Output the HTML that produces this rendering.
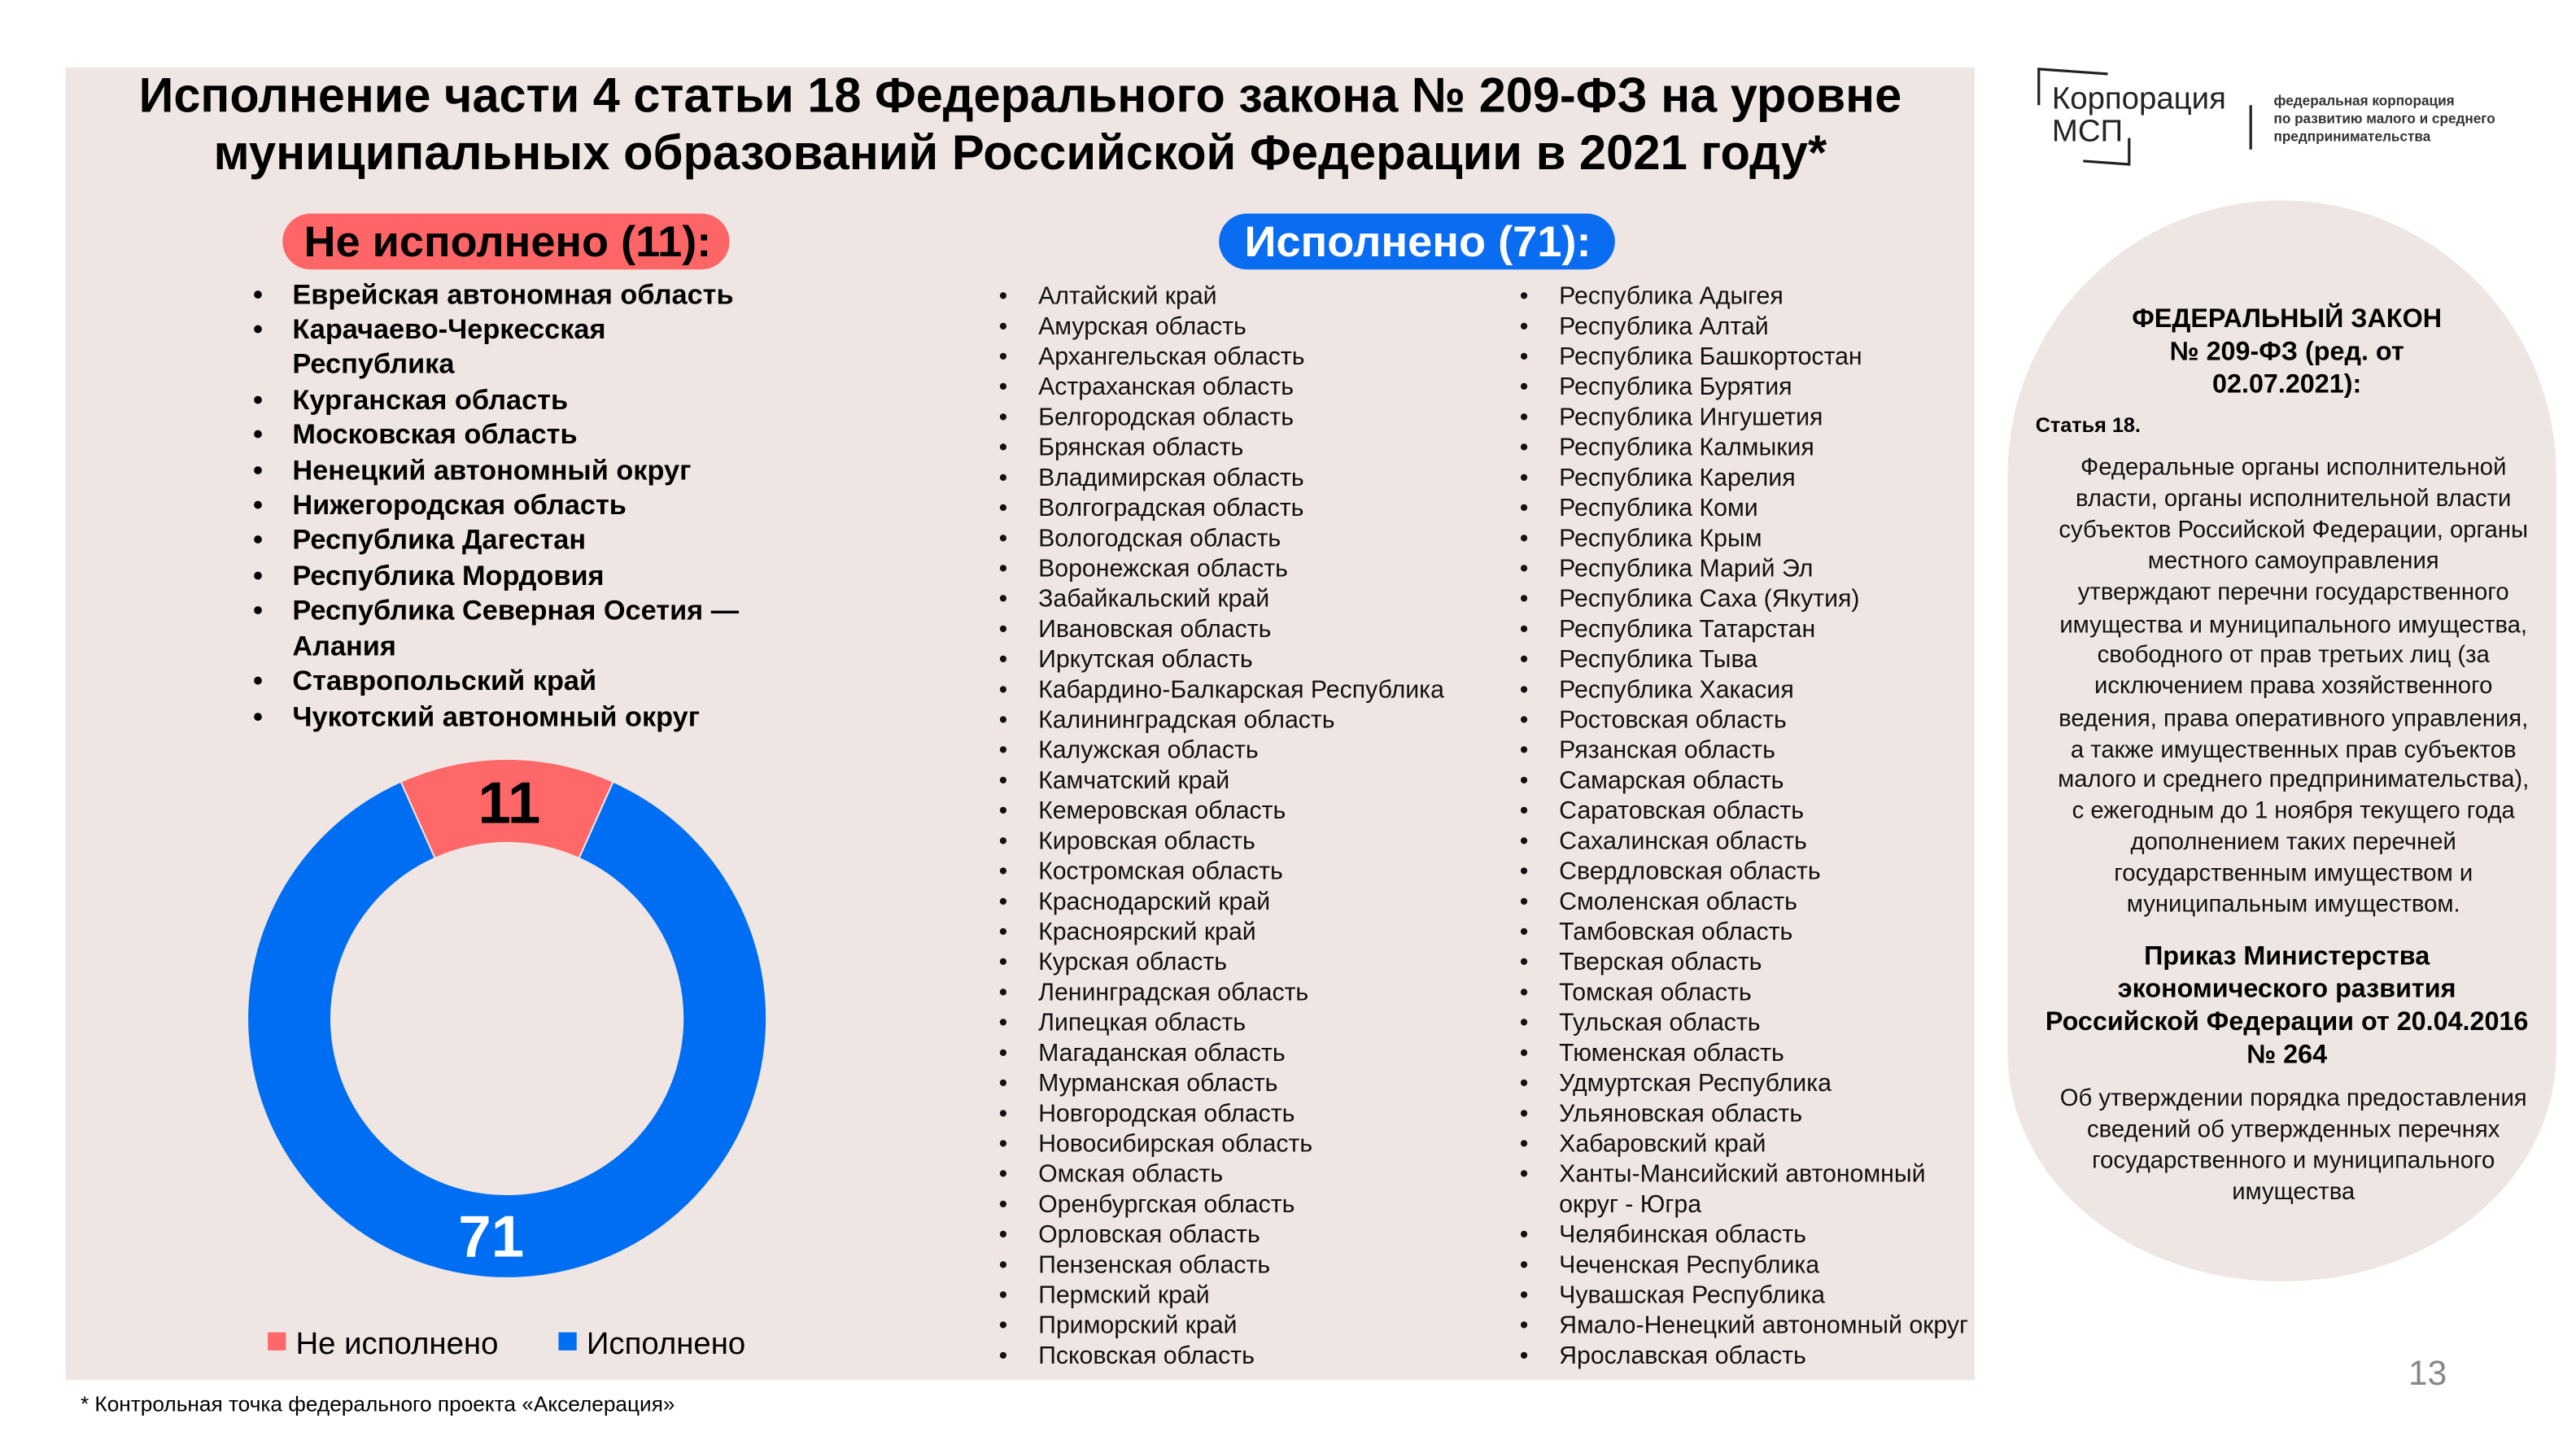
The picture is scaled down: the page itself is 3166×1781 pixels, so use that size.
<!DOCTYPE html>
<html><head><meta charset="utf-8"><style>
html,body{margin:0;padding:0;background:#fff;width:3166px;height:1781px;overflow:hidden}
svg{display:block}
.t{font-family:"Liberation Sans","Noto Sans CJK SC",sans-serif}
</style></head><body>
<svg width="3166" height="1781" viewBox="0 0 1568 882" xmlns="http://www.w3.org/2000/svg" class="t">
<rect x="0" y="0" width="1568" height="882" fill="#fff"/>
<rect x="40" y="41" width="1162" height="799" fill="#efe6e3"/>
<g font-weight="bold" font-size="30" fill="#000" text-anchor="middle">
<text x="621" y="68" textLength="1073" lengthAdjust="spacingAndGlyphs">Исполнение части 4 статьи 18 Федерального закона № 209-ФЗ на уровне</text>
<text x="621" y="103" textLength="982" lengthAdjust="spacingAndGlyphs">муниципальных образований Российской Федерации в 2021 году*</text>
</g>
<rect x="172" y="130" width="272" height="34" rx="17" fill="#fe6567"/>
<text x="309" y="156" font-size="26" font-weight="bold" text-anchor="middle" textLength="248" lengthAdjust="spacingAndGlyphs">Не исполнено (11):</text>
<rect x="742" y="130" width="241" height="34" rx="17" fill="#0a6cf0"/>
<text x="863" y="156" font-size="26" font-weight="bold" fill="#fff" text-anchor="middle" textLength="211" lengthAdjust="spacingAndGlyphs">Исполнено (71):</text>
<g font-size="17" font-weight="bold">
<text x="154" y="185">•</text><text x="178" y="185">Еврейская автономная область</text>
<text x="154" y="206">•</text><text x="178" y="206">Карачаево-Черкесская</text>
<text x="178" y="227">Республика</text>
<text x="154" y="249">•</text><text x="178" y="249">Курганская область</text>
<text x="154" y="270">•</text><text x="178" y="270">Московская область</text>
<text x="154" y="292">•</text><text x="178" y="292">Ненецкий автономный округ</text>
<text x="154" y="313">•</text><text x="178" y="313">Нижегородская область</text>
<text x="154" y="334">•</text><text x="178" y="334">Республика Дагестан</text>
<text x="154" y="356">•</text><text x="178" y="356">Республика Мордовия</text>
<text x="154" y="377">•</text><text x="178" y="377">Республика Северная Осетия —</text>
<text x="178" y="399">Алания</text>
<text x="154" y="420">•</text><text x="178" y="420">Ставропольский край</text>
<text x="154" y="442">•</text><text x="178" y="442">Чукотский автономный округ</text>
</g>
<g font-size="15" fill="#111">
<g transform="translate(0,185)">
<text x="608" y="0">•</text><text x="632" y="0">Алтайский край</text>
<text x="608" y="18.43">•</text><text x="632" y="18.43">Амурская область</text>
<text x="608" y="36.86">•</text><text x="632" y="36.86">Архангельская область</text>
<text x="608" y="55.29">•</text><text x="632" y="55.29">Астраханская область</text>
<text x="608" y="73.71">•</text><text x="632" y="73.71">Белгородская область</text>
<text x="608" y="92.14">•</text><text x="632" y="92.14">Брянская область</text>
<text x="608" y="110.57">•</text><text x="632" y="110.57">Владимирская область</text>
<text x="608" y="129">•</text><text x="632" y="129">Волгоградская область</text>
<text x="608" y="147.43">•</text><text x="632" y="147.43">Вологодская область</text>
<text x="608" y="165.86">•</text><text x="632" y="165.86">Воронежская область</text>
<text x="608" y="184.29">•</text><text x="632" y="184.29">Забайкальский край</text>
<text x="608" y="202.71">•</text><text x="632" y="202.71">Ивановская область</text>
<text x="608" y="221.14">•</text><text x="632" y="221.14">Иркутская область</text>
<text x="608" y="239.57">•</text><text x="632" y="239.57">Кабардино-Балкарская Республика</text>
<text x="608" y="258">•</text><text x="632" y="258">Калининградская область</text>
<text x="608" y="276.43">•</text><text x="632" y="276.43">Калужская область</text>
<text x="608" y="294.86">•</text><text x="632" y="294.86">Камчатский край</text>
<text x="608" y="313.29">•</text><text x="632" y="313.29">Кемеровская область</text>
<text x="608" y="331.71">•</text><text x="632" y="331.71">Кировская область</text>
<text x="608" y="350.14">•</text><text x="632" y="350.14">Костромская область</text>
<text x="608" y="368.57">•</text><text x="632" y="368.57">Краснодарский край</text>
<text x="608" y="387">•</text><text x="632" y="387">Красноярский край</text>
<text x="608" y="405.43">•</text><text x="632" y="405.43">Курская область</text>
<text x="608" y="423.86">•</text><text x="632" y="423.86">Ленинградская область</text>
<text x="608" y="442.29">•</text><text x="632" y="442.29">Липецкая область</text>
<text x="608" y="460.71">•</text><text x="632" y="460.71">Магаданская область</text>
<text x="608" y="479.14">•</text><text x="632" y="479.14">Мурманская область</text>
<text x="608" y="497.57">•</text><text x="632" y="497.57">Новгородская область</text>
<text x="608" y="516">•</text><text x="632" y="516">Новосибирская область</text>
<text x="608" y="534.43">•</text><text x="632" y="534.43">Омская область</text>
<text x="608" y="552.86">•</text><text x="632" y="552.86">Оренбургская область</text>
<text x="608" y="571.29">•</text><text x="632" y="571.29">Орловская область</text>
<text x="608" y="589.71">•</text><text x="632" y="589.71">Пензенская область</text>
<text x="608" y="608.14">•</text><text x="632" y="608.14">Пермский край</text>
<text x="608" y="626.57">•</text><text x="632" y="626.57">Приморский край</text>
<text x="608" y="645">•</text><text x="632" y="645">Псковская область</text>
</g>
<g transform="translate(0,185)">
<text x="925" y="0">•</text><text x="949" y="0">Республика Адыгея</text>
<text x="925" y="18.43">•</text><text x="949" y="18.43">Республика Алтай</text>
<text x="925" y="36.86">•</text><text x="949" y="36.86">Республика Башкортостан</text>
<text x="925" y="55.29">•</text><text x="949" y="55.29">Республика Бурятия</text>
<text x="925" y="73.71">•</text><text x="949" y="73.71">Республика Ингушетия</text>
<text x="925" y="92.14">•</text><text x="949" y="92.14">Республика Калмыкия</text>
<text x="925" y="110.57">•</text><text x="949" y="110.57">Республика Карелия</text>
<text x="925" y="129">•</text><text x="949" y="129">Республика Коми</text>
<text x="925" y="147.43">•</text><text x="949" y="147.43">Республика Крым</text>
<text x="925" y="165.86">•</text><text x="949" y="165.86">Республика Марий Эл</text>
<text x="925" y="184.29">•</text><text x="949" y="184.29">Республика Саха (Якутия)</text>
<text x="925" y="202.71">•</text><text x="949" y="202.71">Республика Татарстан</text>
<text x="925" y="221.14">•</text><text x="949" y="221.14">Республика Тыва</text>
<text x="925" y="239.57">•</text><text x="949" y="239.57">Республика Хакасия</text>
<text x="925" y="258">•</text><text x="949" y="258">Ростовская область</text>
<text x="925" y="276.43">•</text><text x="949" y="276.43">Рязанская область</text>
<text x="925" y="294.86">•</text><text x="949" y="294.86">Самарская область</text>
<text x="925" y="313.29">•</text><text x="949" y="313.29">Саратовская область</text>
<text x="925" y="331.71">•</text><text x="949" y="331.71">Сахалинская область</text>
<text x="925" y="350.14">•</text><text x="949" y="350.14">Свердловская область</text>
<text x="925" y="368.57">•</text><text x="949" y="368.57">Смоленская область</text>
<text x="925" y="387">•</text><text x="949" y="387">Тамбовская область</text>
<text x="925" y="405.43">•</text><text x="949" y="405.43">Тверская область</text>
<text x="925" y="423.86">•</text><text x="949" y="423.86">Томская область</text>
<text x="925" y="442.29">•</text><text x="949" y="442.29">Тульская область</text>
<text x="925" y="460.71">•</text><text x="949" y="460.71">Тюменская область</text>
<text x="925" y="479.14">•</text><text x="949" y="479.14">Удмуртская Республика</text>
<text x="925" y="497.57">•</text><text x="949" y="497.57">Ульяновская область</text>
<text x="925" y="516">•</text><text x="949" y="516">Хабаровский край</text>
<text x="925" y="534.43">•</text><text x="949" y="534.43">Ханты-Мансийский автономный</text>
<text x="949" y="552.86">округ - Югра</text>
<text x="925" y="571.29">•</text><text x="949" y="571.29">Челябинская область</text>
<text x="925" y="589.71">•</text><text x="949" y="589.71">Чеченская Республика</text>
<text x="925" y="608.14">•</text><text x="949" y="608.14">Чувашская Республика</text>
<text x="925" y="626.57">•</text><text x="949" y="626.57">Ямало-Ненецкий автономный округ</text>
<text x="925" y="645">•</text><text x="949" y="645">Ярославская область</text>
</g>
</g>
<path d="M373.2,475.8 A158,158 0 1 1 244.0,475.8 L264.8,522.4 A107,107 0 1 0 352.4,522.4 Z" fill="#006ef2" stroke="#efe6e3" stroke-width="1"/>
<path d="M244.0,475.8 A158,158 0 0 1 373.2,475.8 L352.4,522.4 A107,107 0 0 0 264.8,522.4 Z" fill="#ff6868" stroke="#efe6e3" stroke-width="1"/>
<text x="310" y="501" font-size="36" font-weight="bold" text-anchor="middle" fill="#000">11</text>
<text x="299" y="765" font-size="36" font-weight="bold" text-anchor="middle" fill="#fff">71</text>
<rect x="163" y="811" width="11" height="11" fill="#ff6868"/>
<text x="180" y="824" font-size="19">Не исполнено</text>
<rect x="340" y="811" width="11" height="11" fill="#006ef2"/>
<text x="357" y="824" font-size="19">Исполнено</text>
<text x="49" y="859" font-size="13">* Контрольная точка федерального проекта «Акселерация»</text>
<text x="1466" y="843" font-size="21" fill="#888">13</text>
<g fill="none" stroke="#222" stroke-width="1.6">
<path d="M1241,64 V42 L1283,45"/>
<path d="M1296,84 V100 L1268,98"/>
<path d="M1370,64 V91"/>
</g>
<text x="1249" y="66" font-size="19" fill="#222">Корпорация</text>
<text x="1249" y="86" font-size="19" fill="#222">МСП</text>
<g font-size="8.5" fill="#333" font-weight="bold">
<text x="1384" y="64">федеральная корпорация</text>
<text x="1384" y="75">по развитию малого и среднего</text>
<text x="1384" y="86">предпринимательства</text>
</g>
<path d="M1222,289 A167,167 0 0 1 1556,289 V640 C1556,720 1480,780 1389,780 C1298,780 1222,720 1222,640 Z" fill="#eee6e2"/>
<g font-size="16" font-weight="bold" text-anchor="middle">
<text x="1392" y="199">ФЕДЕРАЛЬНЫЙ ЗАКОН</text>
<text x="1392" y="219">№ 209-ФЗ (ред. от</text>
<text x="1392" y="239">02.07.2021):</text>
</g>
<text x="1239" y="263" font-size="12.5" font-weight="bold">Статья 18.</text>
<g font-size="14.5" text-anchor="middle" fill="#111">
<text x="1396" y="289">Федеральные органы исполнительной</text>
<text x="1396" y="308">власти, органы исполнительной власти</text>
<text x="1396" y="327">субъектов Российской Федерации, органы</text>
<text x="1396" y="346">местного самоуправления</text>
<text x="1396" y="365">утверждают перечни государственного</text>
<text x="1396" y="385">имущества и муниципального имущества,</text>
<text x="1396" y="403">свободного от прав третьих лиц (за</text>
<text x="1396" y="422">исключением права хозяйственного</text>
<text x="1396" y="442">ведения, права оперативного управления,</text>
<text x="1396" y="461">а также имущественных прав субъектов</text>
<text x="1396" y="479">малого и среднего предпринимательства),</text>
<text x="1396" y="498">с ежегодным до 1 ноября текущего года</text>
<text x="1396" y="517">дополнением таких перечней</text>
<text x="1396" y="536">государственным имуществом и</text>
<text x="1396" y="555">муниципальным имуществом.</text>
</g>
<g font-size="16" font-weight="bold" text-anchor="middle">
<text x="1392" y="587">Приказ Министерства</text>
<text x="1392" y="607">экономического развития</text>
<text x="1392" y="627">Российской Федерации от 20.04.2016</text>
<text x="1392" y="647">№ 264</text>
</g>
<g font-size="14.5" text-anchor="middle" fill="#111">
<text x="1396" y="673">Об утверждении порядка предоставления</text>
<text x="1396" y="692">сведений об утвержденных  перечнях</text>
<text x="1396" y="711">государственного и муниципального</text>
<text x="1396" y="730">имущества</text>
</g>
</svg>
</body></html>
